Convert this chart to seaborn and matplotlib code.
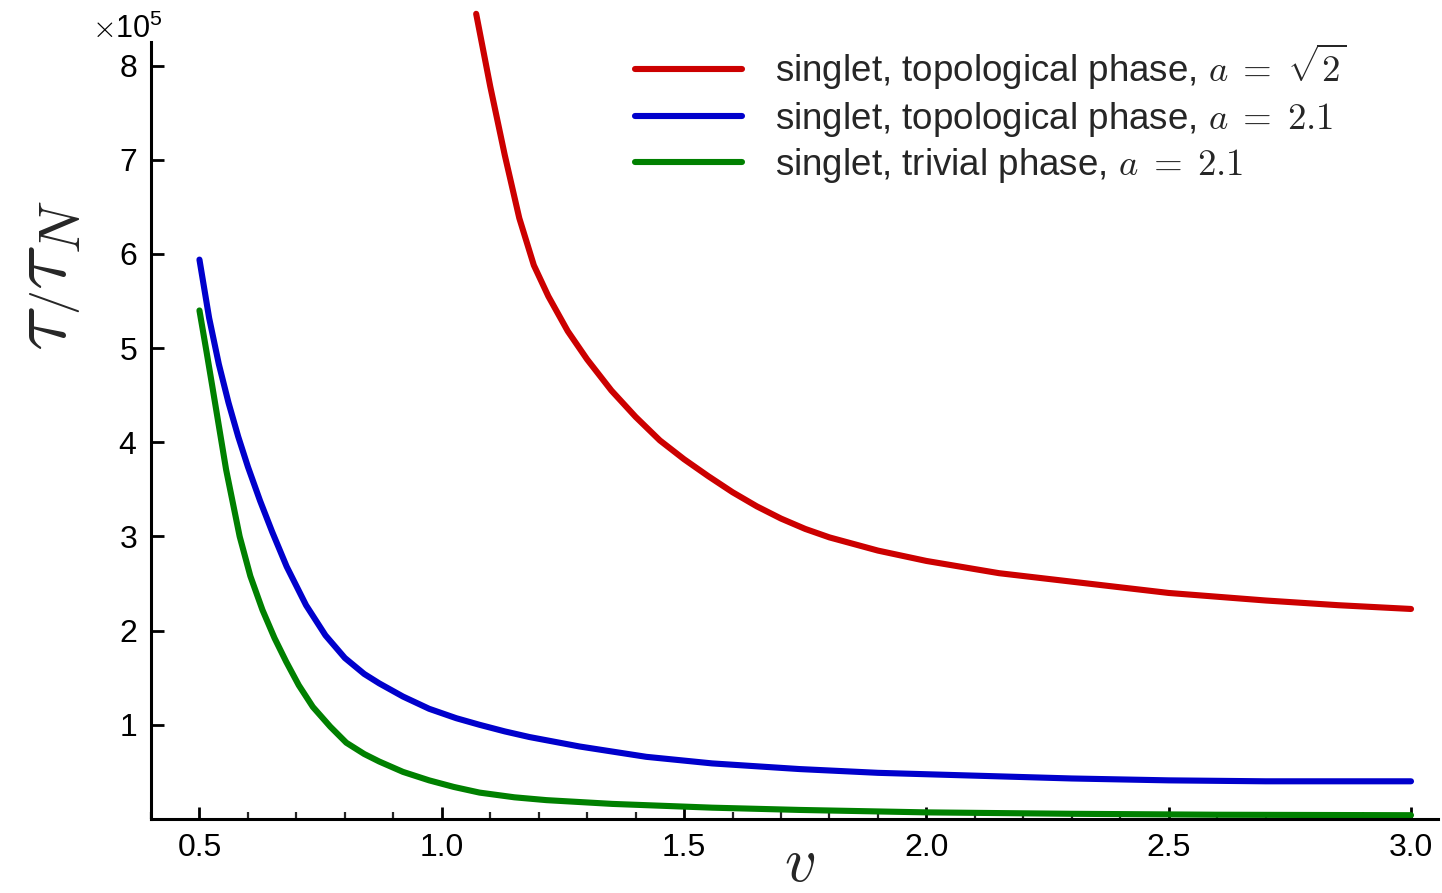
import numpy as np
import pandas as pd
import seaborn as sns
import matplotlib.pyplot as plt
from matplotlib.ticker import MultipleLocator

# Data (values in units of tau_N, x 10^5)
v_red = [1.071, 1.10, 1.13, 1.16, 1.19, 1.22, 1.26, 1.30, 1.35, 1.40, 1.45, 1.50,
         1.55, 1.60, 1.65, 1.70, 1.75, 1.80, 1.90, 2.00, 2.15, 2.30, 2.50, 2.70,
         2.85, 3.0]
tau_red = [8.55, 7.78, 7.05, 6.38, 5.88, 5.55, 5.18, 4.88, 4.55, 4.27, 4.02, 3.82,
           3.64, 3.47, 3.32, 3.19, 3.08, 2.99, 2.85, 2.74, 2.61, 2.52, 2.40, 2.32,
           2.27, 2.23]

v_blue = [0.5, 0.52, 0.54, 0.56, 0.58, 0.60, 0.625, 0.65, 0.68, 0.72, 0.76, 0.80,
          0.84, 0.871, 0.92, 0.974, 1.03, 1.078, 1.13, 1.181, 1.284, 1.422, 1.558,
          1.738, 1.90, 2.10, 2.30, 2.50, 2.70, 2.85, 3.0]
tau_blue = [5.94, 5.32, 4.83, 4.42, 4.06, 3.74, 3.38, 3.05, 2.68, 2.27, 1.95, 1.71,
            1.54, 1.44, 1.30, 1.17, 1.07, 1.00, 0.93, 0.87, 0.77, 0.66, 0.59,
            0.53, 0.49, 0.46, 0.43, 0.41, 0.40, 0.40, 0.40]

v_green = [0.5, 0.515, 0.527, 0.555, 0.583, 0.605, 0.630, 0.655, 0.679, 0.705, 0.734,
           0.77, 0.803, 0.84, 0.871, 0.92, 0.974, 1.025, 1.078, 1.15, 1.216, 1.352,
           1.558, 1.738, 2.0, 2.3, 2.6, 3.0]
tau_green = [5.40, 4.95, 4.58, 3.71, 3.00, 2.58, 2.22, 1.92, 1.67, 1.42, 1.19,
             0.98, 0.81, 0.69, 0.61, 0.50, 0.41, 0.34, 0.28, 0.23, 0.20, 0.16,
             0.12, 0.096, 0.07, 0.055, 0.045, 0.04]

scale = 1e5
labels = [r'singlet, topological phase, $a\;=\;\sqrt{2}$',
          r'singlet, topological phase, $a\;=\;2.1$',
          r'singlet, trivial phase, $a\;=\;2.1$']
colors = ['#cc0000', '#0000cc', '#008000']

sns.set_style('ticks')
plt.rcParams['font.family'] = ['Liberation Sans', 'DejaVu Sans']
plt.rcParams['mathtext.fontset'] = 'cm'

fig = plt.figure(figsize=(14.42, 8.93), dpi=100)
ax = fig.add_axes([0.1047, 0.0829, 0.8923, 0.870])

series = [(v_red, tau_red), (v_blue, tau_blue), (v_green, tau_green)]
for (xs, ys), lab, col in zip(series, labels, colors):
    sns.lineplot(x=xs, y=np.array(ys) * scale, ax=ax, color=col, lw=4.4, label=lab)
# red curve runs past the top of the frame in the original
ax.lines[0].set_clip_on(False)

ax.set_xlim(0.4, 3.055)
ax.set_ylim(0, 8.25e5)
ax.xaxis.set_major_locator(MultipleLocator(0.5))
ax.xaxis.set_minor_locator(MultipleLocator(0.1))
ax.set_yticks(np.arange(1, 9) * scale)
ax.ticklabel_format(axis='y', style='sci', scilimits=(0, 0), useMathText=True)
off = ax.yaxis.get_offset_text()
off.set_fontsize(22)
off.set_x(-0.046)

for s in ['top', 'right']:
    ax.spines[s].set_visible(False)
for s in ['left', 'bottom']:
    ax.spines[s].set_linewidth(2.2)
    ax.spines[s].set_color('black')

ax.tick_params(axis='both', which='major', direction='in', length=9, width=2,
               labelsize=23, colors='black', pad=10)
ax.tick_params(axis='x', which='minor', direction='in', length=5, width=1.6)

ax.set_xlabel(r'$v$', fontsize=45)
ax.xaxis.set_label_coords(0.504, -0.02)
ax.set_ylabel(r'$\tau\left/\tau_N\right.$', fontsize=60)
ax.yaxis.set_label_coords(-0.052, 0.70)

leg = ax.legend(loc='upper left', bbox_to_anchor=(0.376, 1.0), frameon=False,
                fontsize=26.5, handlelength=2.9, handletextpad=0.9,
                labelspacing=0.2, borderpad=0, borderaxespad=0)

fig.savefig('out.png', dpi=100)
